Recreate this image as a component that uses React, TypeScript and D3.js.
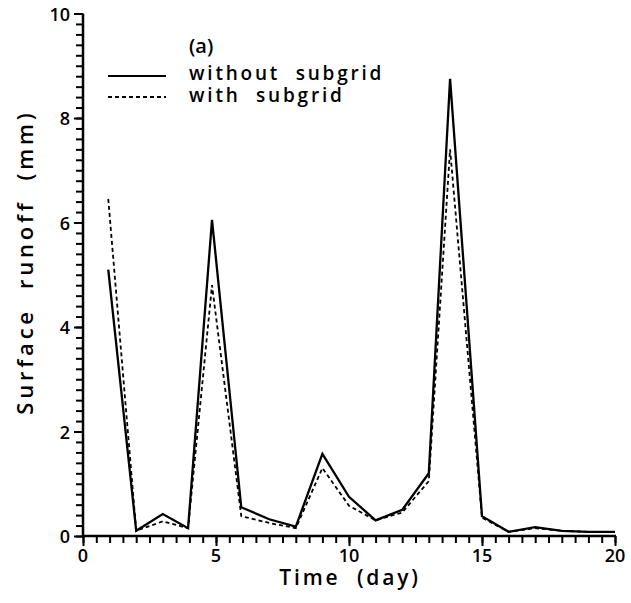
import React, { useEffect, useRef } from "react";
import * as d3 from "d3";

const days = [0.95, 2, 3, 3.95, 4.85, 5.95, 7, 8, 9, 10, 11, 12, 13, 13.8, 15, 16, 17, 18, 19, 20];
const withoutSubgrid = [5.1, 0.1, 0.42, 0.15, 6.05, 0.55, 0.32, 0.18, 1.57, 0.75, 0.3, 0.5, 1.2, 8.75, 0.38, 0.08, 0.17, 0.1, 0.08, 0.08];
const withSubgrid = [6.45, 0.1, 0.28, 0.15, 4.8, 0.38, 0.25, 0.15, 1.3, 0.58, 0.3, 0.45, 1.05, 7.4, 0.35, 0.08, 0.15, 0.1, 0.08, 0.08];
const xTicks = [0, 5, 10, 15, 20];
const yTicks = [0, 2, 4, 6, 8, 10];
const legendLabels = ["without  subgrid", "with  subgrid"];
const panelLabel = "(a)";
const xTitle = "Time  (day)";
const yTitle = "Surface  runoff  (mm)";

export default function App() {
  const W = 631, H = 603;
  const ref = useRef<SVGSVGElement>(null);
  const x = d3.scaleLinear().domain([0, 20]).range([83, 615]);
  const y = d3.scaleLinear().domain([0, 10]).range([536, 13.5]);
  const line = d3.line<number>().x((_, i) => x(days[i])).y((d) => y(d));
  const x0 = x(0);
  const yb = y(0);
  const font = "'Open Sans', 'DejaVu Sans', sans-serif";

  useEffect(() => {
    const svg = d3.select(ref.current);
    svg.selectAll("g.axes").remove();
    const g = svg.insert("g", ":first-child").attr("class", "axes");
    const xMinor = d3.range(0, 41).map((i) => i * 0.5);
    const yMinor = d3.range(0, 51).map((i) => i * 0.2);
    const style = (sel: any) => {
      sel.selectAll("path").remove();
      sel.selectAll("line").attr("stroke", "#000").attr("stroke-width", 2);
    };
    g.append("g").attr("transform", `translate(0,${yb})`)
      .call(d3.axisBottom(x).tickValues(xMinor).tickSize(7).tickFormat(() => "")).call(style);
    g.append("g").attr("transform", `translate(0,${yb})`)
      .call(d3.axisBottom(x).tickValues(xTicks).tickSize(10).tickFormat(() => "")).call(style);
    g.append("g").attr("transform", `translate(${x0},0)`)
      .call(d3.axisLeft(y).tickValues(yMinor).tickSize(7).tickFormat(() => "")).call(style);
    g.append("g").attr("transform", `translate(${x0},0)`)
      .call(d3.axisLeft(y).tickValues(yTicks).tickSize(9).tickFormat(() => "")).call(style);
  }, []);

  return (
    <svg ref={ref} width={W} height={H} style={{ position: "absolute", left: 0, top: 0, background: "#fff" }}>
      <path d={`M${x0 - 1},${yb}H${x(20) + 1}M${x0},${yb}V${y(10)}`} stroke="#000" strokeWidth={2.5} fill="none" />
      <g fontFamily={font} fontWeight={600} fontSize={18} fill="#000">
        {xTicks.map((t) => (
          <text key={"xt" + t} x={x(t)} y={562} textAnchor="middle">{t}</text>
        ))}
        {yTicks.map((t) => (
          <text key={"yt" + t} x={x0 - 13} y={y(t) + 7} textAnchor="end">{t}</text>
        ))}
        <text x={350} y={585} textAnchor="middle" fontSize={21} letterSpacing={2.8} style={{ whiteSpace: "pre" }}>{xTitle}</text>
        <text transform={`translate(33,262) rotate(-90)`} textAnchor="middle" fontSize={22} letterSpacing={3.8} style={{ whiteSpace: "pre" }}>{yTitle}</text>
        <text x={189} y={53} fontSize={20}>{panelLabel}</text>
        <text x={189} y={80} fontSize={19} letterSpacing={2.8} style={{ whiteSpace: "pre" }}>{legendLabels[0]}</text>
        <text x={189} y={102} fontSize={19} letterSpacing={2.8} style={{ whiteSpace: "pre" }}>{legendLabels[1]}</text>
      </g>
      <line x1={108} x2={166} y1={76} y2={76} stroke="#000" strokeWidth={2.2} />
      <line x1={108} x2={166} y1={97} y2={97} stroke="#000" strokeWidth={1.8} strokeDasharray="4,3" />
      <path d={line(withoutSubgrid) || ""} fill="none" stroke="#000" strokeWidth={2.3} strokeLinejoin="miter" />
      <path d={line(withSubgrid) || ""} fill="none" stroke="#000" strokeWidth={1.8} strokeDasharray="4,3" />
    </svg>
  );
}
